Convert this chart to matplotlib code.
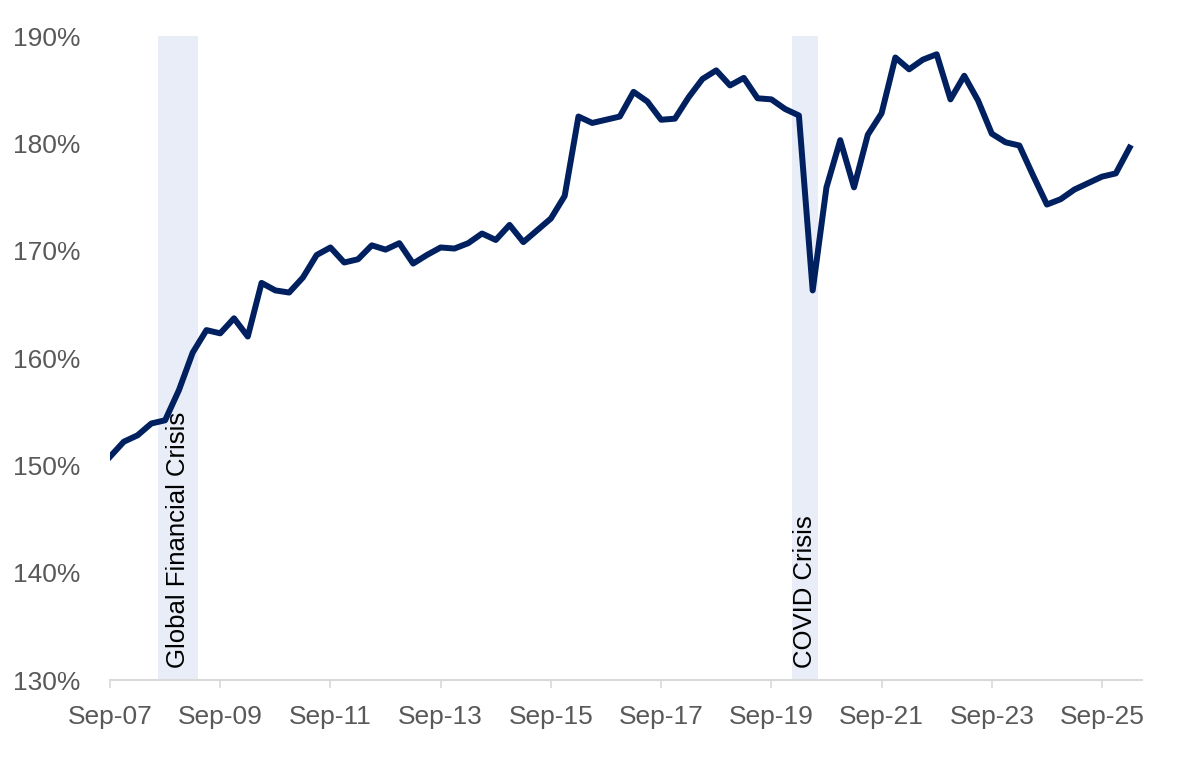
import numpy as np
import matplotlib
matplotlib.use("Agg")
import matplotlib.pyplot as plt

plt.rcParams['font.family'] = ['Liberation Sans', 'DejaVu Sans']

# quarterly values, Sep-07 .. Mar-26 (%)
values = [150.8, 152.2, 152.8, 153.9, 154.2, 157.0, 160.5, 162.6, 162.3, 163.7,
          162.0, 167.0, 166.3, 166.1, 167.5, 169.6, 170.3, 168.9, 169.2, 170.5,
          170.1, 170.7, 168.8, 169.6, 170.3, 170.2, 170.7, 171.6, 171.0, 172.4,
          170.8, 171.9, 173.0, 175.1, 182.5, 181.9, 182.2, 182.5, 184.8, 183.9,
          182.2, 182.3, 184.3, 186.0, 186.8, 185.4, 186.1, 184.2, 184.1, 183.2,
          182.6, 166.3, 175.9, 180.3, 175.9, 180.8, 182.8, 188.0, 186.9, 187.8,
          188.3, 184.1, 186.3, 184.0, 180.9, 180.1, 179.8, 177.0, 174.3, 174.8,
          175.7, 176.3, 176.9, 177.2, 179.6]

tick_labels = ["Sep-07", "Sep-09", "Sep-11", "Sep-13", "Sep-15",
               "Sep-17", "Sep-19", "Sep-21", "Sep-23", "Sep-25"]
y_ticks = [130, 140, 150, 160, 170, 180, 190]

# crisis bands in quarter index units
crises = [("Global Financial Crisis", 3.5, 6.4),
          ("COVID Crisis", 49.5, 51.4)]

x = np.arange(len(values))

fig = plt.figure(figsize=(11.79, 7.65), dpi=100)
ax = fig.add_axes([0.0933, 0.1111, 0.8753, 0.8418])

for name, start, end in crises:
    ax.axvspan(start, end, color='#E9EDF7', lw=0, zorder=0)
    ax.text((start + end) / 2, 131.1, name, rotation=90, ha='center', va='bottom',
            fontsize=18.5, color='black', zorder=1)

ax.plot(x, values, color='#002060', lw=4.3, solid_joinstyle='round', zorder=3)

ax.set_xlim(0, 74.9)
ax.set_ylim(130, 190)
ax.set_xticks(np.arange(0, 8 * len(tick_labels), 8))
ax.set_xticklabels(tick_labels)
ax.set_yticks(y_ticks)
ax.set_yticklabels([f"{v}%" for v in y_ticks])

for s in ['top', 'right', 'left']:
    ax.spines[s].set_visible(False)
ax.spines['bottom'].set_color('#D9D9D9')
ax.spines['bottom'].set_linewidth(1.5)

ax.tick_params(axis='x', colors='#D9D9D9', length=6, width=1.2, pad=12,
               labelcolor='#595959', labelsize=19)
ax.tick_params(axis='y', length=0, pad=21, labelcolor='#595959', labelsize=19)

fig.savefig('out.png', dpi=100)
